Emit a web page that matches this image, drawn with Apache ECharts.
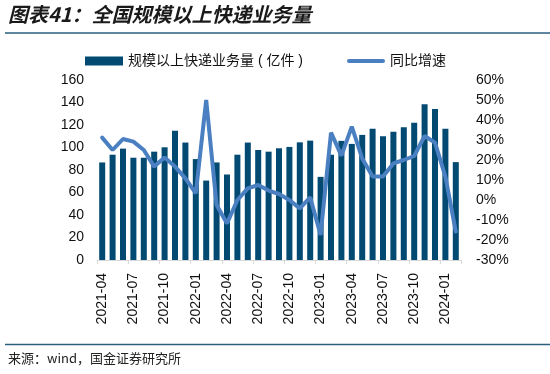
<!DOCTYPE html>
<html><head><meta charset="utf-8">
<script src="https://cdn.jsdelivr.net/npm/echarts@6/dist/echarts.min.js"></script>
<style>html,body{margin:0;padding:0;background:#fff}#c{width:550px;height:374px}</style>
</head><body><div id="c"></div>
<script>
const categories = ['2021-04','2021-05','2021-06','2021-07','2021-08','2021-09','2021-10','2021-11','2021-12',
'2022-01','2022-02','2022-03','2022-04','2022-05','2022-06','2022-07','2022-08','2022-09','2022-10','2022-11','2022-12',
'2023-01','2023-02','2023-03','2023-04','2023-05','2023-06','2023-07','2023-08','2023-09','2023-10','2023-11','2023-12',
'2024-01','2024-02'];
const volume = [86.7,93.6,99,90.9,90.9,96.3,100.2,115,104.4,89.7,70.6,86.7,76,93.6,104.4,97.8,96.3,99.3,100.5,104.6,106.1,
73.9,93.6,105.9,103.2,111.2,116.6,110,113.9,118.1,122,138.5,134.3,116.6,87];
const yoy = [31.2,25,30.5,29.2,25,16.7,21.3,16.7,10.8,3.3,50,-2.5,-11.7,0,5.8,7.5,4.7,3,0,-4.2,1.3,
-17.5,33.7,22.2,36.7,20.8,11.7,11.7,18.3,20,22,32,28.7,11.7,-15.8];
const leftTicks = [0,160,20];
const rightTicks = [-30,60,10];

const chart = echarts.init(document.getElementById('c'));
const fam = 'Liberation Sans, Arial, Noto Sans CJK SC, sans-serif';
chart.setOption({
  animation:false,
  textStyle:{fontFamily:fam},
  graphic:[
    {type:'text',left:8,top:4,style:{text:'图表41：全国规模以上快递业务量',font:'italic bold 20px "Noto Sans CJK SC", sans-serif',fill:'#1a1a1a'}},
    {type:'line',shape:{x1:5,y1:33,x2:550,y2:33},style:{stroke:'#2a5f7f',lineWidth:1.5}},
    {type:'line',shape:{x1:5,y1:344.5,x2:550,y2:344.5},style:{stroke:'#2a5f7f',lineWidth:1.5}},
    {type:'text',left:8,top:352,style:{text:'来源：wind，国金证券研究所',font:'13px "Noto Sans CJK SC", monospace',fill:'#222'}}
  ],
  legend:{top:49,left:80,itemGap:44,itemWidth:38,itemHeight:9,
    textStyle:{fontSize:14,color:'#111',fontFamily:fam},
    data:[{name:'规模以上快递业务量 ( 亿件 )',icon:'rect'},
          {name:'同比增速',icon:'path://M2,0h34a2,2 0 0 1 0,4h-34a2,2 0 0 1 0,-4z'}]},
  grid:{left:97,right:89,top:80,bottom:114},
  xAxis:{type:'category',data:categories,boundaryGap:true,
    axisLine:{lineStyle:{color:'#d9d9d9',width:1}},
    axisTick:{show:true,interval:2,length:4,lineStyle:{color:'#d9d9d9'}},
    axisLabel:{interval:2,rotate:90,fontSize:14,color:'#111',margin:13}},
  yAxis:[
    {type:'value',min:leftTicks[0],max:leftTicks[1],interval:leftTicks[2],splitLine:{show:false},
      axisLine:{show:false},axisTick:{show:false},axisLabel:{fontSize:14,color:'#111',margin:13}},
    {type:'value',min:rightTicks[0],max:rightTicks[1],interval:rightTicks[2],splitLine:{show:false},
      axisLine:{show:false},axisTick:{show:false},axisLabel:{fontSize:14,color:'#111',margin:15,formatter:'{value}%'}}
  ],
  series:[
    {name:'规模以上快递业务量 ( 亿件 )',type:'bar',data:volume,barWidth:6,itemStyle:{color:'#024a72'}},
    {name:'同比增速',type:'line',yAxisIndex:1,data:yoy,showSymbol:false,symbol:'none',
      lineStyle:{color:'#4a80c2',width:4,cap:'round'},itemStyle:{color:'#4a80c2'}}
  ]
});
</script></body></html>
